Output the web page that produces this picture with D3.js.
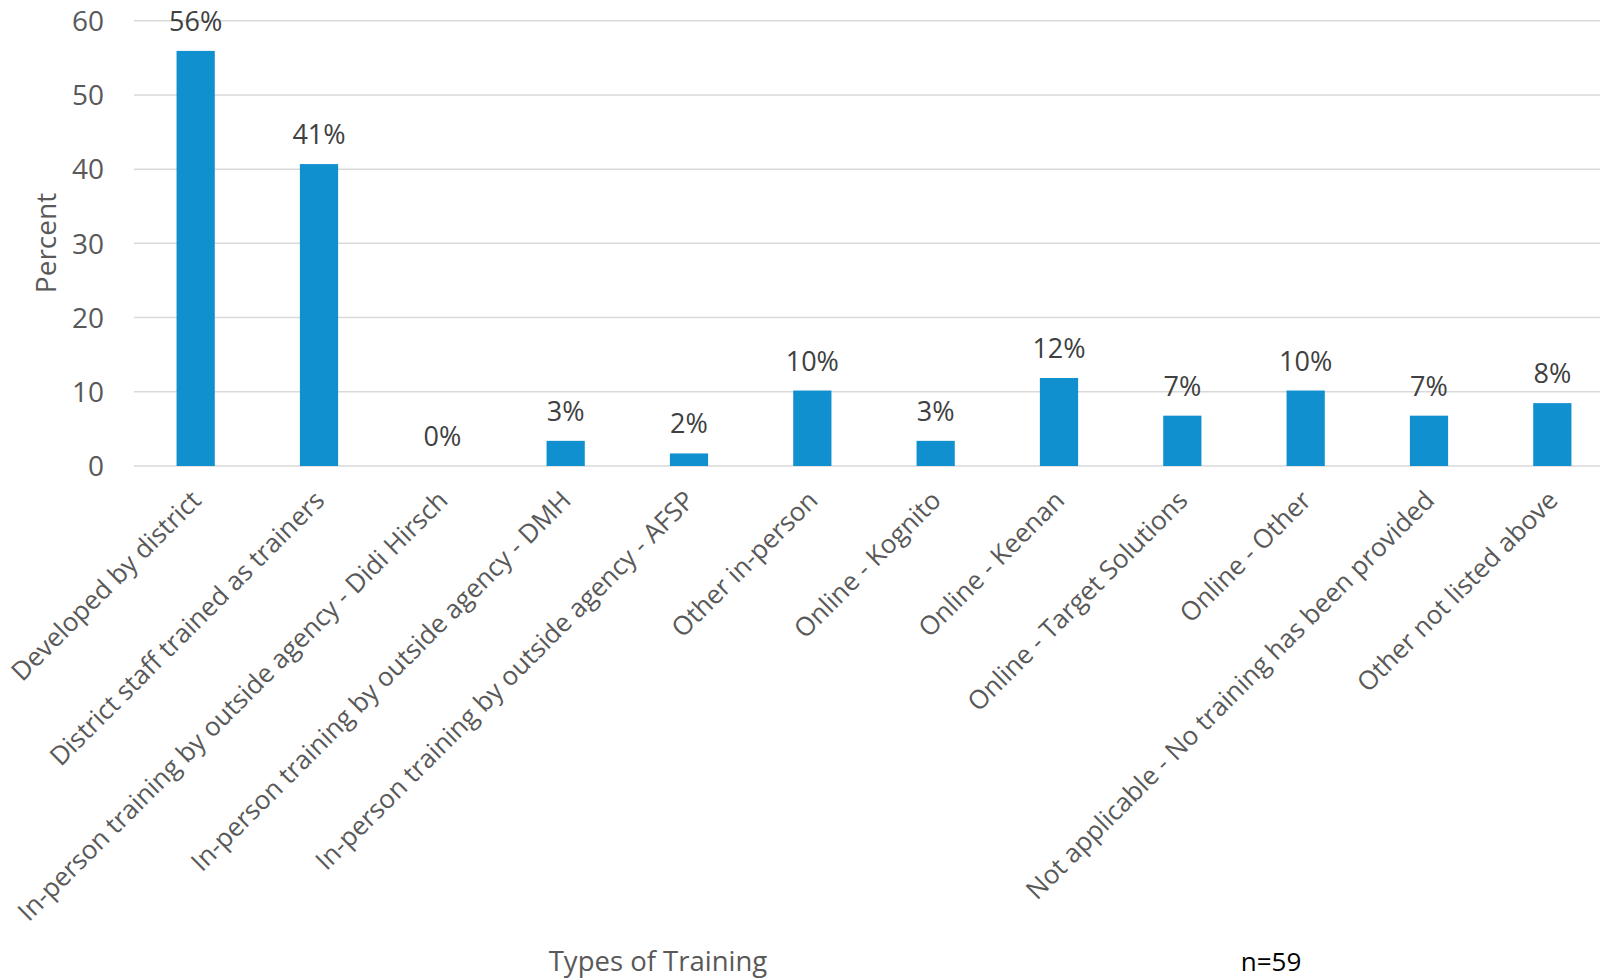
<!DOCTYPE html>
<html><head><meta charset="utf-8">
<script src="https://cdn.jsdelivr.net/npm/d3@7"></script>
<style>body{margin:0;background:#fff;}svg{display:block;font-family:"Open Sans",sans-serif;}</style>
</head><body><svg id="c" width="1600" height="980"></svg>
<script>
const categories = ["Developed by district","District staff trained as trainers","In-person training by outside agency - Didi Hirsch","In-person training by outside agency - DMH","In-person training by outside agency - AFSP","Other in-person","Online - Kognito","Online - Keenan","Online - Target Solutions","Online - Other","Not applicable - No training has been provided","Other not listed above"];
const values = [55.93,40.68,0,3.39,1.69,10.17,3.39,11.86,6.78,10.17,6.78,8.47];
const valueLabels = ["56%","41%","0%","3%","2%","10%","3%","12%","7%","10%","7%","8%"];
const yTicks = [0,10,20,30,40,50,60];

const svg = d3.select("#c");
const x = d3.scaleBand().domain(categories).range([134, 1614]).paddingInner(0.69).paddingOuter(0.345);
const y = d3.scaleLinear().domain([0,60]).range([466, 20.7]);

// gridlines
svg.append("g").selectAll("line").data(yTicks).join("line")
  .attr("x1",134).attr("x2",1600).attr("y1",d=>y(d)).attr("y2",d=>y(d))
  .attr("stroke","#d9d9d9").attr("stroke-width",1.5);

// y axis tick labels
const yAxis = d3.axisLeft(y).tickValues(yTicks).tickSize(0).tickPadding(0);
const gy = svg.append("g").attr("transform","translate(104,0)").call(yAxis);
gy.select(".domain").remove();
gy.selectAll("text").attr("font-size",28).attr("fill","#595959").attr("font-family","'Open Sans',sans-serif").attr("dy","0.35em");

// bars
svg.append("g").selectAll("rect").data(values).join("rect")
  .attr("x",(d,i)=>x(categories[i])).attr("width",x.bandwidth())
  .attr("y",d=>y(d)).attr("height",d=>y(0)-y(d)).attr("fill","#1190cf");

// data labels
svg.append("g").selectAll("text").data(values).join("text")
  .attr("x",(d,i)=>x(categories[i])+x.bandwidth()/2).attr("y",d=>y(d)-20)
  .attr("text-anchor","middle").attr("font-size",27).attr("fill","#404040")
  .text((d,i)=>valueLabels[i]);

// x axis labels
const xAxis = d3.axisBottom(x).tickSize(0).tickPadding(0);
const gx = svg.append("g").attr("transform","translate(0,466)").call(xAxis);
gx.select(".domain").remove();
gx.selectAll("text").attr("font-size",26).attr("fill","#595959").attr("font-family","'Open Sans',sans-serif")
  .attr("text-anchor","end").attr("dy",null).attr("y",0)
  .attr("transform","translate(7,36) rotate(-45)");

// axis titles
svg.append("text").attr("transform","translate(56,243) rotate(-90)").attr("text-anchor","middle")
  .attr("font-size",28).attr("fill","#595959").text("Percent");
svg.append("text").attr("x",658).attr("y",971).attr("text-anchor","middle")
  .attr("font-size",27.5).attr("fill","#595959").text("Types of Training");
svg.append("text").attr("x",1271).attr("y",971).attr("text-anchor","middle")
  .attr("font-size",26).attr("fill","#000").text("n=59");
</script></body></html>
